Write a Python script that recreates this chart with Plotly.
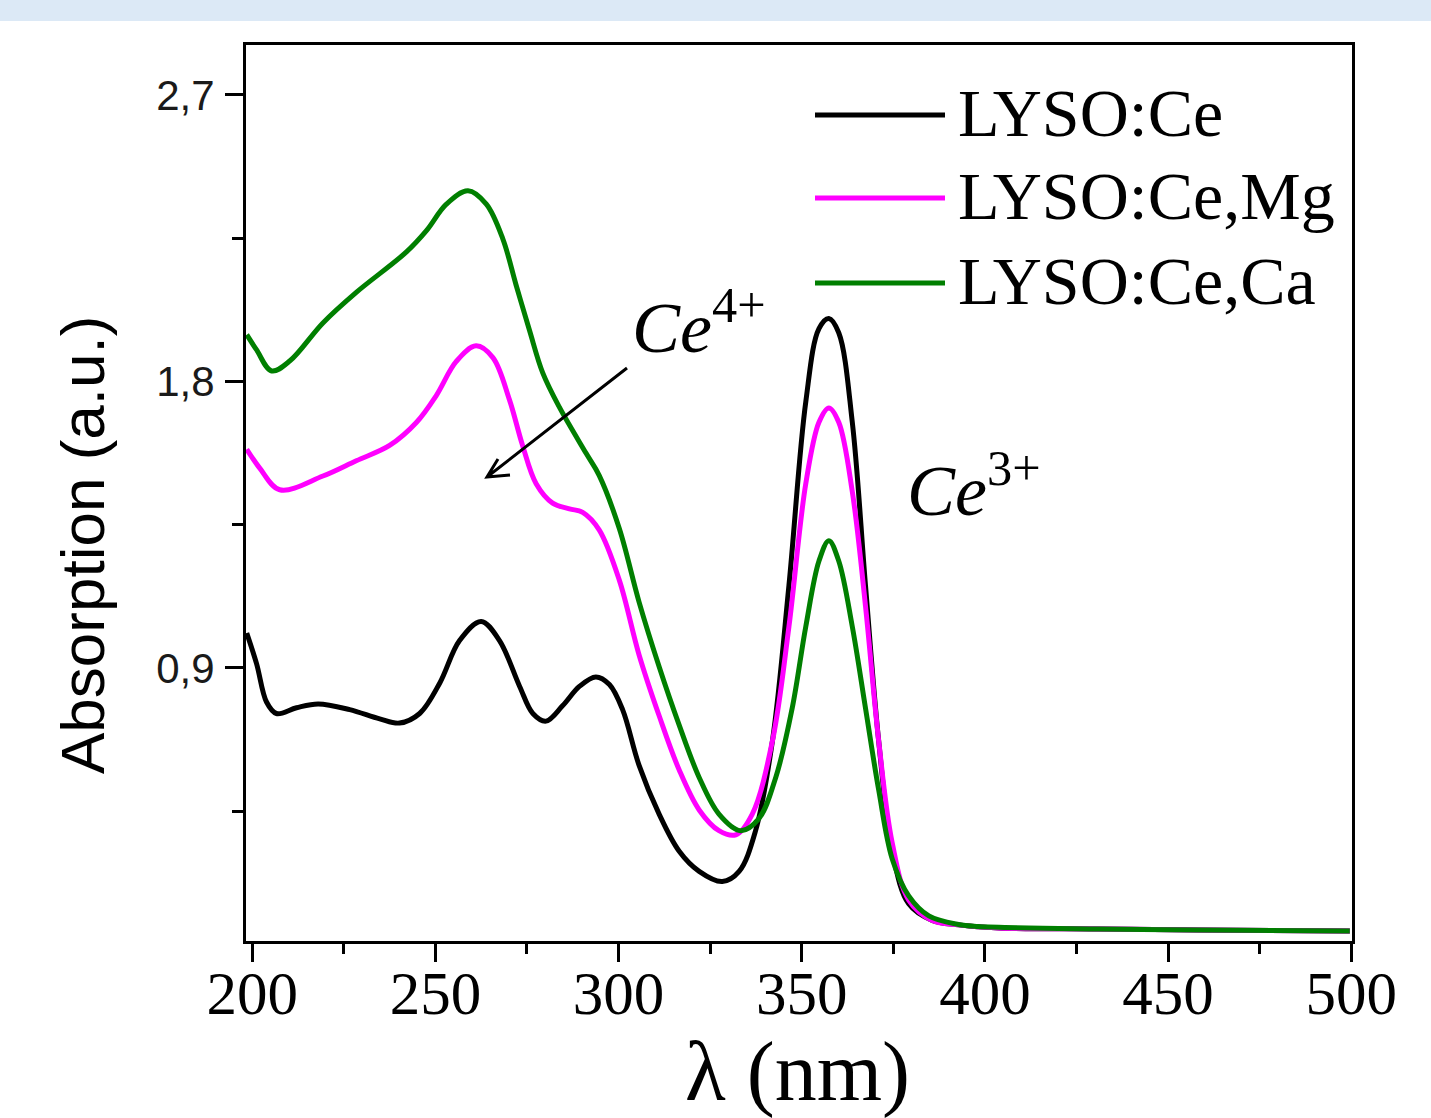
import plotly.graph_objects as go

# ---------------- data ----------------
series_names = ["LYSO:Ce", "LYSO:Ce,Mg", "LYSO:Ce,Ca"]
series_colors = ["#000000", "#ff00ff", "#007f00"]

wl_ce = [198.5, 201.2, 203.9, 206.6, 212.1, 218.0, 226.6, 234.8, 240.2, 245.7, 251.2, 256.6,
         262.5, 267.5, 273.0, 276.6, 280.2, 284.7, 289.3, 293.8, 297.5, 301.1, 305.6, 311.1,
         316.5, 322.0, 328.3, 332.9, 337.4, 342.0, 346.5, 351.1, 354.7, 357.4, 360.1, 363.8,
         367.4, 371.0, 374.7, 379.2, 385.6, 392.8, 403.7, 431.0, 458.3, 499.6]
abs_ce = [1.010, 0.913, 0.793, 0.757, 0.775, 0.787, 0.769, 0.740, 0.727, 0.757, 0.853, 0.986,
          1.046, 0.986, 0.842, 0.757, 0.733, 0.781, 0.842, 0.872, 0.848, 0.769, 0.594, 0.440,
          0.325, 0.261, 0.229, 0.261, 0.389, 0.671, 1.159, 1.736, 1.966, 1.998, 1.953, 1.672,
          1.159, 0.671, 0.325, 0.159, 0.107, 0.093, 0.083, 0.080, 0.077, 0.074]

wl_mg = [198.5, 202.1, 207.5, 219.3, 228.4, 237.5, 244.8, 250.2, 255.7, 261.1, 265.7, 270.2,
         273.8, 277.5, 282.0, 286.6, 290.2, 294.7, 300.2, 305.6, 311.1, 316.5, 322.0, 327.4,
         332.0, 336.5, 342.0, 346.5, 351.1, 354.7, 357.4, 360.1, 363.8, 367.4, 371.0, 374.7,
         379.2, 385.6, 392.8, 403.7, 431.0, 458.3, 499.6]
abs_mg = [1.587, 1.527, 1.460, 1.503, 1.551, 1.599, 1.671, 1.755, 1.863, 1.912, 1.875, 1.743,
          1.599, 1.479, 1.418, 1.400, 1.389, 1.334, 1.176, 0.941, 0.749, 0.581, 0.454, 0.389,
          0.376, 0.441, 0.671, 1.030, 1.479, 1.672, 1.717, 1.672, 1.454, 1.095, 0.671, 0.350,
          0.171, 0.107, 0.093, 0.083, 0.080, 0.077, 0.074]

wl_ca = [198.5, 201.2, 205.3, 210.3, 219.3, 228.4, 242.1, 247.5, 253.0, 258.9, 263.9, 268.4,
         272.0, 275.7, 279.3, 283.8, 291.1, 294.7, 300.2, 305.6, 311.1, 316.5, 322.0, 327.4,
         333.3, 338.3, 342.9, 347.4, 351.1, 354.7, 357.4, 360.1, 363.8, 367.4, 371.0, 374.7,
         379.2, 384.7, 392.8, 398.2, 431.0, 458.3, 499.6]
abs_ca = [1.947, 1.899, 1.833, 1.865, 1.984, 2.080, 2.207, 2.273, 2.357, 2.399, 2.357, 2.248,
          2.104, 1.960, 1.827, 1.720, 1.575, 1.505, 1.338, 1.107, 0.903, 0.722, 0.556, 0.441,
          0.389, 0.427, 0.556, 0.774, 1.030, 1.236, 1.300, 1.236, 1.030, 0.774, 0.517, 0.300,
          0.184, 0.121, 0.094, 0.088, 0.080, 0.077, 0.074]

y_tick_vals = [0.9, 1.8, 2.7]
y_tick_text = ["0,9", "1,8", "2,7"]
x_tick_vals = [200, 250, 300, 350, 400, 450, 500]
x_tick_text = ["200", "250", "300", "350", "400", "450", "500"]

x_title = "λ (nm)"
y_title = "Absorption (a.u.)"
ann_ce4 = "<i>Ce</i><sup>4+</sup>"
ann_ce3 = "<i>Ce</i><sup>3+</sup>"

# ---------------- layout geometry ----------------
W, H = 1431, 1118
L, R, T, B = 246, 1352, 45, 941


def px(x):
    return (x - L) / (R - L)


def py(y):
    return (B - y) / (B - T)


SERIF = "Liberation Serif, Times New Roman, serif"
SANS = "Liberation Sans, Arial, sans-serif"

fig = go.Figure()
for wl, ab, name, col in zip([wl_ce, wl_mg, wl_ca], [abs_ce, abs_mg, abs_ca],
                             series_names, series_colors):
    fig.add_trace(go.Scatter(x=wl, y=ab, mode="lines", name=name,
                             line=dict(color=col, width=5, shape="spline", smoothing=1.0),
                             showlegend=False))

shapes = []
annotations = []

# top band
shapes.append(dict(type="rect", xref="paper", yref="paper", x0=px(0), x1=px(W),
                   y0=py(21), y1=py(0), fillcolor="#dce9f6", line=dict(width=0), layer="below"))

# custom legend
legend_rows = [115, 198, 283]
for name, col, ry in zip(series_names, series_colors, legend_rows):
    shapes.append(dict(type="line", xref="paper", yref="paper", x0=px(815), x1=px(945),
                       y0=py(ry), y1=py(ry), line=dict(color=col, width=5)))
    annotations.append(dict(text=name, xref="paper", yref="paper", x=px(956), y=py(ry - 2),
                            xanchor="left", yanchor="middle", showarrow=False,
                            font=dict(family=SERIF, size=68, color="black")))

# arrow for Ce4+
tip = (487, 477)
tail = (627, 368)
w1 = (498, 459)
w2 = (510, 475)
path = (f"M {px(tail[0])} {py(tail[1])} L {px(tip[0])} {py(tip[1])} "
        f"M {px(w1[0])} {py(w1[1])} L {px(tip[0])} {py(tip[1])} L {px(w2[0])} {py(w2[1])}")
shapes.append(dict(type="path", xref="paper", yref="paper", path=path,
                   line=dict(color="black", width=3)))

annotations.append(dict(text=ann_ce4, xref="paper", yref="paper", x=px(630), y=py(322),
                        xanchor="left", yanchor="middle", showarrow=False,
                        font=dict(family=SERIF, size=72, color="black")))
annotations.append(dict(text=ann_ce3, xref="paper", yref="paper", x=px(905), y=py(485),
                        xanchor="left", yanchor="middle", showarrow=False,
                        font=dict(family=SERIF, size=72, color="black")))

# axis titles
annotations.append(dict(text=x_title, xref="paper", yref="paper", x=px(797), y=py(1072),
                        xanchor="center", yanchor="middle", showarrow=False,
                        font=dict(family=SERIF, size=84, color="black")))
annotations.append(dict(text=y_title, xref="paper", yref="paper", x=px(82), y=py(545),
                        xanchor="center", yanchor="middle", showarrow=False, textangle=-90,
                        font=dict(family=SANS, size=62, color="black")))

XR = [198.3, 500.2]
YR = [0.0423, 2.857]

fig.update_layout(
    width=W, height=H,
    margin=dict(l=L, r=W - R, t=T, b=H - B, pad=0),
    paper_bgcolor="white", plot_bgcolor="white",
    shapes=shapes, annotations=annotations,
    xaxis=dict(range=XR, showgrid=False, zeroline=False, showline=True, linecolor="black",
               linewidth=3, mirror=True, ticks="outside", ticklen=18, tickwidth=2.5,
               tickcolor="black", tickvals=x_tick_vals, ticktext=x_tick_text,
               tickfont=dict(family=SERIF, size=61, color="black"),
               ticklabelstandoff=-21,
               minor=dict(dtick=25, tick0=0, ticks="outside", ticklen=10, tickwidth=2.5,
                          tickcolor="black", showgrid=False),
               automargin=False),
    xaxis2=dict(range=XR, overlaying="x", side="top", anchor="y", showgrid=False,
                zeroline=False, showline=False, ticks="inside", ticklen=15, tickwidth=2.5,
                tickcolor="black", tickvals=x_tick_vals, showticklabels=False,
                minor=dict(dtick=25, tick0=0, ticks="inside", ticklen=9, tickwidth=2.5,
                           tickcolor="black", showgrid=False),
                automargin=False),
    yaxis=dict(range=YR, showgrid=False, zeroline=False, showline=True, linecolor="black",
               linewidth=3, mirror=True, ticks="outside", ticklen=18, tickwidth=2.5,
               tickcolor="black", tickvals=y_tick_vals, ticktext=y_tick_text,
               tickfont=dict(family=SANS, size=42, color="#1a1a1a"),
               ticklabelstandoff=2,
               minor=dict(dtick=0.45, tick0=0, ticks="outside", ticklen=11, tickwidth=2.5,
                          tickcolor="black", showgrid=False),
               automargin=False),
)

fig.write_html("out.html", config={"displayModeBar": False},
               post_script="document.body.style.margin='0';document.body.style.padding='0';")
